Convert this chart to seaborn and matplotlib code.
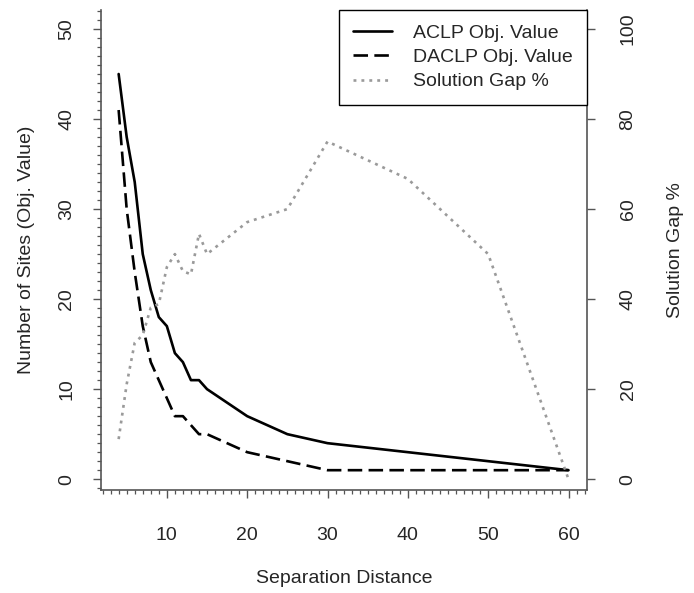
import numpy as np
import pandas as pd
import seaborn as sns
import matplotlib.pyplot as plt
from matplotlib.ticker import MultipleLocator

# values
distance = [4, 5, 6, 7, 8, 9, 10, 11, 12, 13, 14, 15, 20, 25, 30, 40, 50, 60]
aclp = [45, 38, 33, 25, 21, 18, 17, 14, 13, 11, 11, 10, 7, 5, 4, 3, 2, 1]
daclp = [41, 30, 23, 17, 13, 11, 9, 7, 7, 6, 5, 5, 3, 2, 1, 1, 1, 1]
gap = [8.9, 21.1, 30.3, 32.0, 38.1, 38.9, 47.1, 50.0, 46.2, 45.5, 54.5, 50.0,
       57.1, 60.0, 75.0, 66.7, 50.0, 0.0]

df = pd.DataFrame({"dist": distance, "aclp": aclp, "daclp": daclp, "gap": gap})

sns.set_style("ticks")
plt.rcParams['font.family'] = ['Liberation Sans', 'DejaVu Sans']
fs = 14
axis_col = '#555555'

fig = plt.figure(figsize=(6.94, 5.93), dpi=100)
ax = fig.add_axes([0.1455, 0.1737, 0.7003, 0.8093])
ax2 = ax.twinx()

sns.lineplot(data=df, x="dist", y="aclp", ax=ax, color='black', lw=1.9,
             linestyle='-', label='ACLP Obj. Value', legend=False)
sns.lineplot(data=df, x="dist", y="daclp", ax=ax, color='black', lw=1.9,
             linestyle=(0, (5.5, 2.4)), label='DACLP Obj. Value', legend=False)
sns.lineplot(data=df, x="dist", y="gap", ax=ax2, color='#9a9a9a', lw=1.9,
             linestyle=(0, (1.1, 1.9)), label='Solution Gap %', legend=False)

ax.set_xlim(1.8, 62.3)
ax.set_ylim(-1.2, 52.1)
ax2.set_ylim(-2.4, 104.2)

ax.xaxis.set_major_locator(MultipleLocator(10))
ax.xaxis.set_minor_locator(MultipleLocator(1))
ax.yaxis.set_major_locator(MultipleLocator(10))
ax.yaxis.set_minor_locator(MultipleLocator(1))
ax2.yaxis.set_major_locator(MultipleLocator(20))
ax.set_xticks([10, 20, 30, 40, 50, 60])
ax2.set_yticks([0, 20, 40, 60, 80, 100])

for a in (ax, ax2):
    a.spines['top'].set_visible(False)
    for s in a.spines.values():
        s.set_color(axis_col)
        s.set_linewidth(1.2)
ax.spines['right'].set_visible(False)
ax2.spines['left'].set_visible(False)
ax2.spines['bottom'].set_visible(False)

ax.tick_params(axis='both', which='major', length=5.5, width=1.0, color=axis_col,
               labelsize=fs, direction='out')
ax.tick_params(axis='both', which='minor', length=3, width=0.9, color=axis_col,
               direction='out')
ax.tick_params(axis='x', which='major', pad=21)
ax.tick_params(axis='y', which='major', pad=13)
ax2.tick_params(axis='y', which='major', length=5.5, width=1.0, color=axis_col,
                labelsize=fs, direction='out', pad=18)
for lab in ax.get_yticklabels():
    lab.set_rotation(90)
    lab.set_va('center')
for lab in ax2.get_yticklabels():
    lab.set_rotation(90)
    lab.set_va('center')

ax.set_xlabel('Separation Distance', fontsize=fs, labelpad=19)
ax.set_ylabel('Number of Sites (Obj. Value)', fontsize=fs, labelpad=17)
ax2.set_ylabel('Solution Gap %', fontsize=fs, labelpad=22)

handles = ax.get_lines() + ax2.get_lines()
leg = ax2.legend(handles=handles, labels=[h.get_label() for h in handles],
                 loc='upper right', bbox_to_anchor=(1.0, 1.0), fontsize=fs,
                 frameon=True, fancybox=False, borderaxespad=0,
                 handlelength=2.0, handletextpad=1.05, borderpad=0.75,
                 labelspacing=0.33)
leg.get_frame().set_edgecolor('black')
leg.get_frame().set_linewidth(1.0)
leg.get_frame().set_alpha(1)

fig.savefig('out.png', dpi=100)
